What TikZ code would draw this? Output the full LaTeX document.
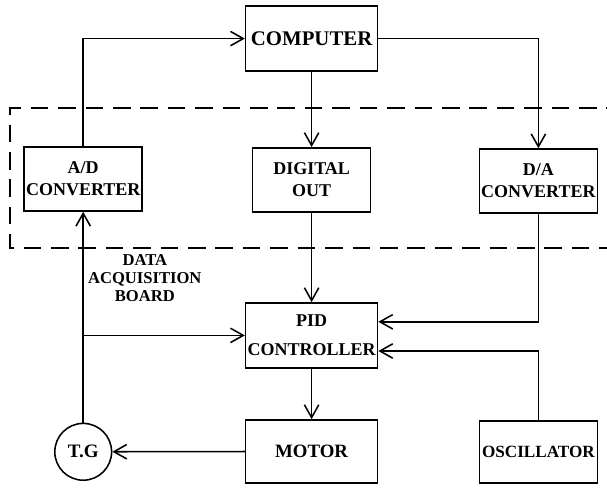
\documentclass[tikz,border=0pt]{standalone}
\usepackage{fontspec}
\setmainfont{Liberation Serif}
\usetikzlibrary{arrows.meta,positioning,calc}

\begin{document}
\begin{tikzpicture}[
  font=\bfseries,
  block/.style={draw,line width=1.1pt,minimum height=1.6cm,align=center,inner sep=1pt,font=\fontsize{12.8}{15.5}\selectfont\bfseries},
  wideblock/.style={block,minimum width=3.3cm},
  narrowblock/.style={block,minimum width=2.95cm},
  gen/.style={draw,circle,line width=1.1pt,minimum size=1.42cm,inner sep=0pt,font=\fontsize{13.5}{15}\selectfont\bfseries},
  edge/.style={-{Straight Barb[length=3.2mm,width=3.6mm]},line width=1.1pt},
  board/.style={line width=1.1pt,dash pattern=on 12.5pt off 7pt},
  boardlabel/.style={align=center,font=\fontsize{11.8}{12.6}\selectfont\bfseries}
]
\useasboundingbox (0,0) rectangle (15.175,12.225);

% data acquisition board outline (open to the right)
\draw[board] (15.6,9.525) -- (0.25,9.525) -- (0.25,6.025) -- (15.6,6.025);
\node[boardlabel] (boardtext) at (3.62,5.27) {DATA\\ACQUISITION\\BOARD};

\node[wideblock,minimum height=1.625cm,font=\fontsize{14.8}{17}\selectfont\bfseries] (computer) at (7.79,11.26) {COMPUTER};

\node[narrowblock] (adc) at (2.08,7.75) {A/D\\CONVERTER};
\node[narrowblock] (digout) at (7.79,7.73) {DIGITAL\\OUT};
\node[narrowblock] (dac) at (13.46,7.70) {D/A\\CONVERTER};

\node[wideblock,minimum height=1.625cm,font=\fontsize{12.8}{21}\selectfont\bfseries] (pid) at (7.79,3.84) {PID\\CONTROLLER};
\node[wideblock,minimum height=1.575cm,font=\fontsize{13.4}{15}\selectfont\bfseries] (motor) at (7.79,0.94) {MOTOR};
\node[narrowblock,minimum height=1.55cm,font=\fontsize{12.2}{15}\selectfont\bfseries] (osc) at (13.46,0.93) {OSCILLATOR};
\node[gen] (tg) at (2.08,0.93) {T.G};

\coordinate (tap) at (tg.north |- pid.west);

\draw[edge] (adc.north) |- (computer.west);
\draw[edge] (computer.east) -| (dac.north);
\draw[edge] (computer) -- (digout);
\draw[edge] (digout) -- (pid);
\draw[edge] (dac.south) |- ([yshift=3.4mm]pid.east);
\draw[edge] (osc.north) |- ([yshift=-3.9mm]pid.east);
\draw[edge] (pid) -- (motor);
\draw[edge] (motor) -- (tg);
\draw[edge] (tg) -- (adc);
\draw[edge] (tap) -- (pid.west);
\end{tikzpicture}
\end{document}
